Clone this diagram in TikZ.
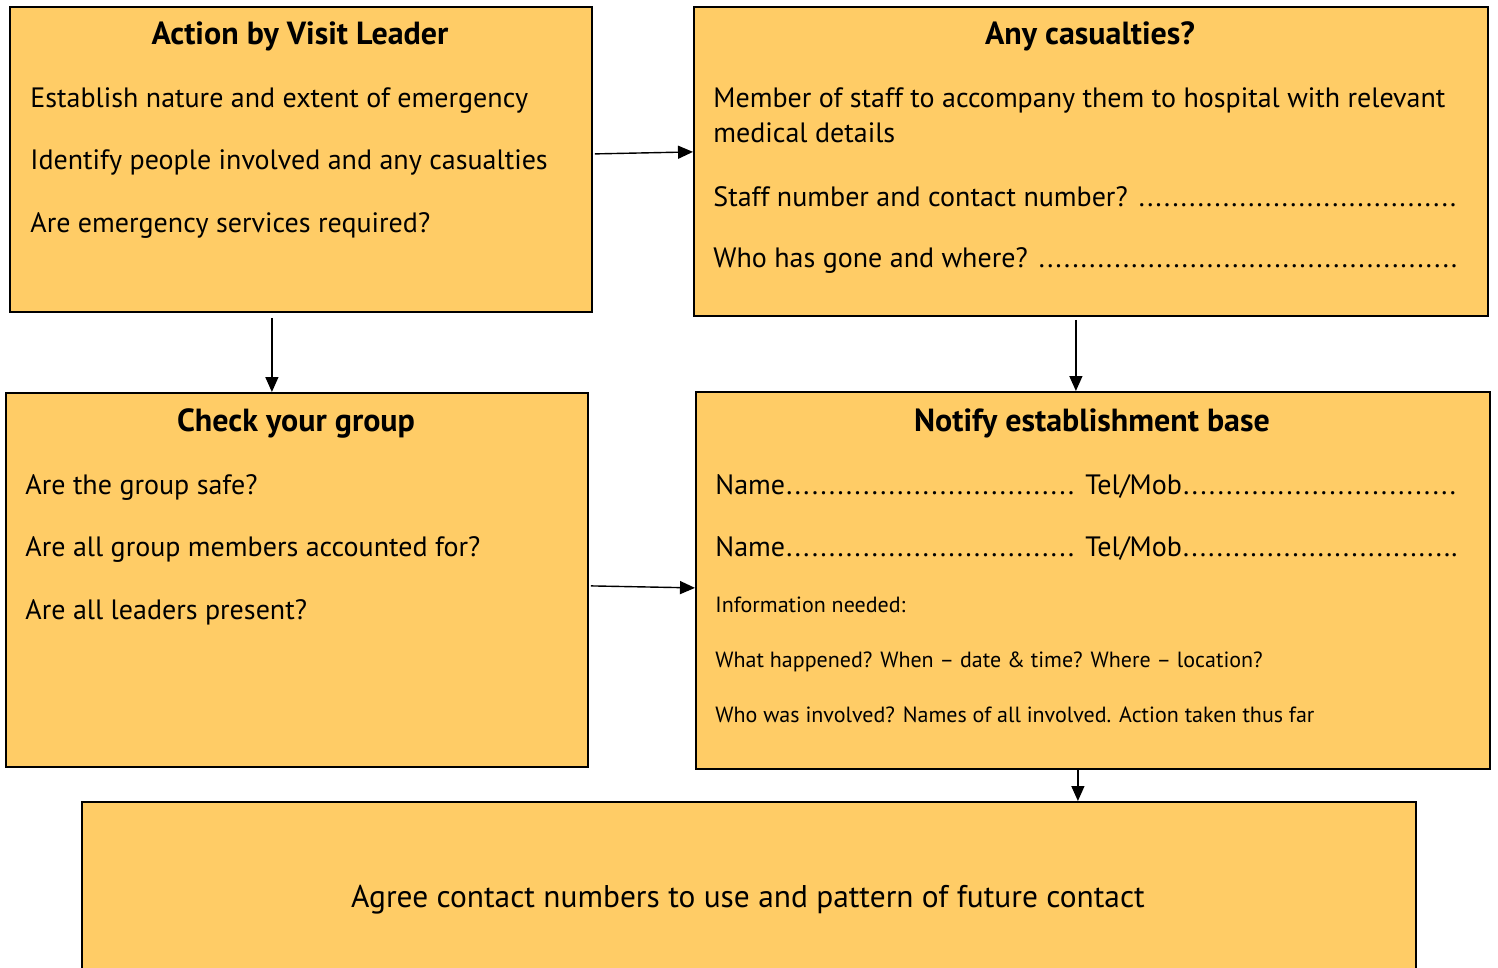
\documentclass[tikz,border=0pt]{standalone}
\usepackage{fontspec}
\setmainfont{PT Sans}
\usetikzlibrary{arrows.meta}
\definecolor{cardfill}{HTML}{FFCC66}
\newcommand{\dotline}{\xleaders\hbox to 0.3em{\hss.\hss}\hfill}

\begin{document}
\begin{tikzpicture}[x=0.5pt, y=-0.5pt,
    card/.style={draw, line width=0.9pt, fill=cardfill, anchor=north west, inner sep=0pt},
    title/.style={anchor=base, font=\fontsize{16}{19}\selectfont\bfseries},
    body/.style={anchor=base west, inner sep=0pt, font=\fontsize{14}{17}\selectfont},
    small/.style={anchor=base west, inner sep=0pt, font=\fontsize{11}{13}\selectfont},
    link/.style={line width=0.7pt, -{Triangle[length=7.5pt,width=6.5pt]}}]
    \useasboundingbox (0,0) rectangle (1498,968);

    % boxes
    \node[card, minimum width=291pt, minimum height=152.5pt] (leader) at (9,6) {};
    \node[card, minimum width=397pt, minimum height=154.5pt] (casualty) at (693,6) {};
    \node[card, minimum width=291pt, minimum height=187pt] (group) at (5,392) {};
    \node[card, minimum width=397pt, minimum height=188.5pt] (notify) at (695,391) {};
    \node[card, minimum width=667pt, minimum height=100pt] (agree) at (81,801) {};

    % action by visit leader
    \node[title] (leader-t) at (300,45) {Action by Visit Leader};
    \node[body] (leader-1) at (30,108) {Establish nature and extent of emergency};
    \node[body] (leader-2) at (30,170) {Identify people involved and any casualties};
    \node[body] (leader-3) at (30,233) {Are emergency services required?};

    % any casualties
    \node[title] (casualty-t) at (1090,45) {Any casualties?};
    \node[body] (casualty-1) at (713,108) {Member of staff to accompany them to hospital with relevant};
    \node[body] (casualty-2) at (713,143) {medical details};
    \node[body] (casualty-3) at (713,206) {\makebox[372pt][l]{Staff number and contact number? \dotline}};
    \node[body] (casualty-4) at (713,268) {\makebox[372.5pt][l]{Who has gone and where? \dotline}};

    % check your group
    \node[title] (group-t) at (296,431) {Check your group};
    \node[body] (group-1) at (25,494) {Are the group safe?};
    \node[body] (group-2) at (25,556) {Are all group members accounted for?};
    \node[body] (group-3) at (25,619) {Are all leaders present?};

    % notify establishment base
    \node[title] (notify-t) at (1092,431) {Notify establishment base};
    \node[body] (notify-1) at (715,494) {\makebox[180pt][l]{Name\dotline}\hspace{5pt}\makebox[186pt][l]{Tel/Mob\dotline}};
    \node[body] (notify-2) at (715,556) {\makebox[180pt][l]{Name\dotline}\hspace{5pt}\makebox[183pt][l]{Tel/Mob\dotline}.};
    \node[small] (notify-3) at (715,612) {Information needed:};
    \node[small] (notify-4) at (715,667) {What happened? When -- date \& time? Where -- location?};
    \node[small] (notify-5) at (715,722) {Who was involved? Names of all involved. Action taken thus far};

    % agree contact
    \node[anchor=base, font=\fontsize{15.7}{18}\selectfont] (agree-t) at (748,907) {Agree contact numbers to use and pattern of future contact};

    % arrows
    \draw[link] ([xshift=1pt,yshift=2.75pt]leader.east) -- ([yshift=4.75pt]casualty.west);
    \draw[link] ([xshift=-14.5pt,yshift=-2.5pt]leader.south) -- ([xshift=-12.5pt]group.north);
    \draw[link] ([xshift=-7.5pt,yshift=-1.5pt]casualty.south) -- ([xshift=-8.5pt]notify.north);
    \draw[link] ([xshift=1pt,yshift=-3pt]group.east) -- ([yshift=-3.75pt]notify.west);
    \draw[link] ([xshift=-7.5pt]notify.south) -- ([xshift=164.5pt]agree.north);

\end{tikzpicture}
\end{document}
